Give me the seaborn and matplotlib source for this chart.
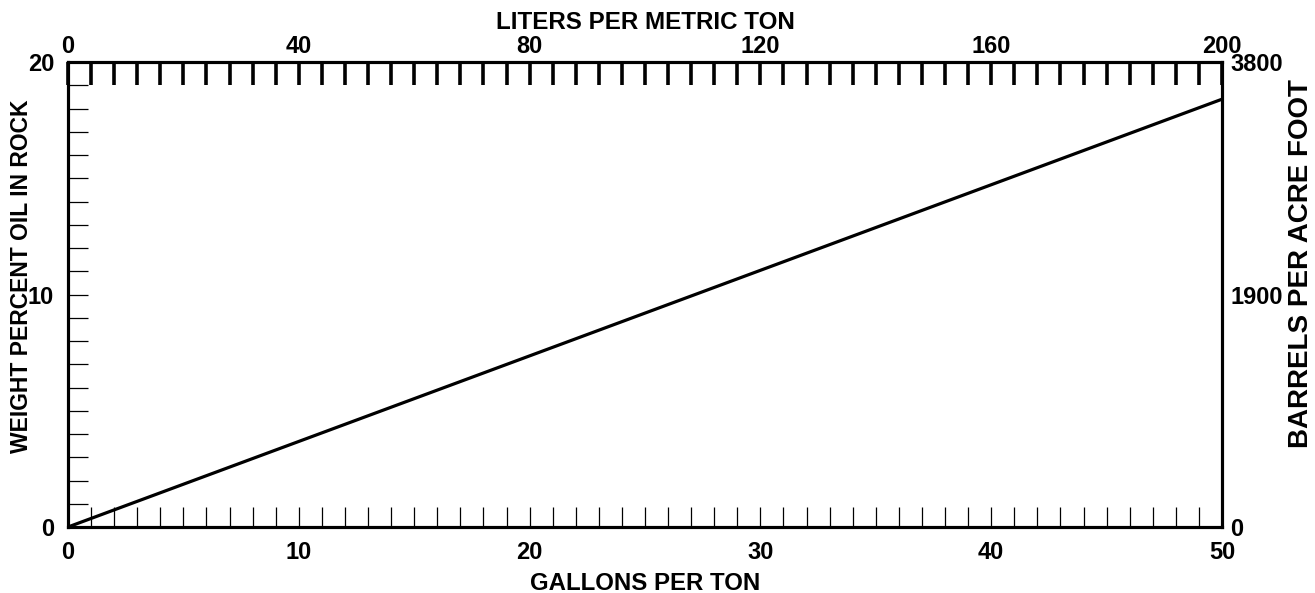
import matplotlib
matplotlib.use("Agg")
import matplotlib.pyplot as plt
import seaborn as sns
import numpy as np
import pandas as pd
from matplotlib.ticker import MultipleLocator, FixedLocator

# Data
gallons_per_ton = [0, 50]
weight_percent = [0, 18.4]

bottom_ticks = [0, 10, 20, 30, 40, 50]
left_ticks = [0, 10, 20]
top_ticks = [0, 40, 80, 120, 160, 200]
right_ticks = [0, 1900, 3800]

sns.set_theme(style="white")
plt.rcParams['font.family'] = ['Liberation Sans', 'DejaVu Sans']
plt.rcParams['font.weight'] = 'bold'
for k in ['text.color', 'axes.labelcolor', 'xtick.color', 'ytick.color',
          'xtick.labelcolor', 'ytick.labelcolor']:
    plt.rcParams[k] = 'black'

FS = 17
fig = plt.figure(figsize=(13.15, 5.93), dpi=100)
ax = fig.add_axes([68/1315, 1 - 527/593, (1222-68)/1315, (527-62)/593])

df = pd.DataFrame({"gal": gallons_per_ton, "wt": weight_percent})
sns.lineplot(data=df, x="gal", y="wt", ax=ax, color="black", linewidth=2.3)

ax.set_xlim(0, 50)
ax.set_ylim(0, 20)
for s in ax.spines.values():
    s.set_linewidth(2.2)
    s.set_color("black")

ax.xaxis.set_major_locator(FixedLocator(bottom_ticks))
ax.xaxis.set_minor_locator(MultipleLocator(1))
ax.yaxis.set_major_locator(FixedLocator(left_ticks))
ax.yaxis.set_minor_locator(MultipleLocator(1))
ax.tick_params(axis='x', which='both', direction='in', length=14.4, width=0.9,
               color='black', labelcolor='black', bottom=True, top=False,
               labelsize=FS, pad=10)
ax.tick_params(axis='y', which='both', direction='in', length=14.4, width=0.9,
               color='black', labelcolor='black', left=True, right=True,
               labelsize=FS, pad=10)
ax.set_xlabel("GALLONS PER TON", fontsize=17.3, fontweight='bold', color='black')
ax.set_ylabel("WEIGHT PERCENT OIL IN ROCK", fontsize=16.5, fontweight='bold', color='black')
ax.xaxis.set_label_coords(0.5, -0.096)
ax.yaxis.set_label_coords(-0.030, 0.54)
for lab in ax.get_xticklabels() + ax.get_yticklabels():
    lab.set_fontweight('bold')

# Top axis
axt = ax.twiny()
axt.set_xlim(0, 200)
axt.xaxis.set_major_locator(FixedLocator(top_ticks))
axt.xaxis.set_minor_locator(MultipleLocator(4))
axt.tick_params(axis='x', which='both', direction='in', length=16.5, width=2.6,
                color='black', labelcolor='black', labelsize=FS, pad=3)
axt.set_xlabel("LITERS PER METRIC TON", fontsize=17.4, fontweight='bold', color='black')
axt.xaxis.set_label_coords(0.5, 1.070)
for lab in axt.get_xticklabels():
    lab.set_fontweight('bold')
axt.grid(False)

# Right axis
axr = ax.twinx()
axr.set_ylim(0, 3800)
axr.yaxis.set_major_locator(FixedLocator(right_ticks))
axr.yaxis.set_minor_locator(FixedLocator([]))
axr.tick_params(axis='y', which='both', length=0, labelsize=FS, pad=6,
                labelcolor='black')
axr.set_ylabel("BARRELS PER ACRE FOOT", fontsize=20, fontweight='bold', color='black')
axr.yaxis.set_label_coords(1.057, 0.566)
for lab in axr.get_yticklabels():
    lab.set_fontweight('bold')
axr.grid(False)
for a in (axt, axr):
    for s in a.spines.values():
        s.set_linewidth(2.2)
        s.set_color("black")

fig.savefig("out.png", dpi=100)
